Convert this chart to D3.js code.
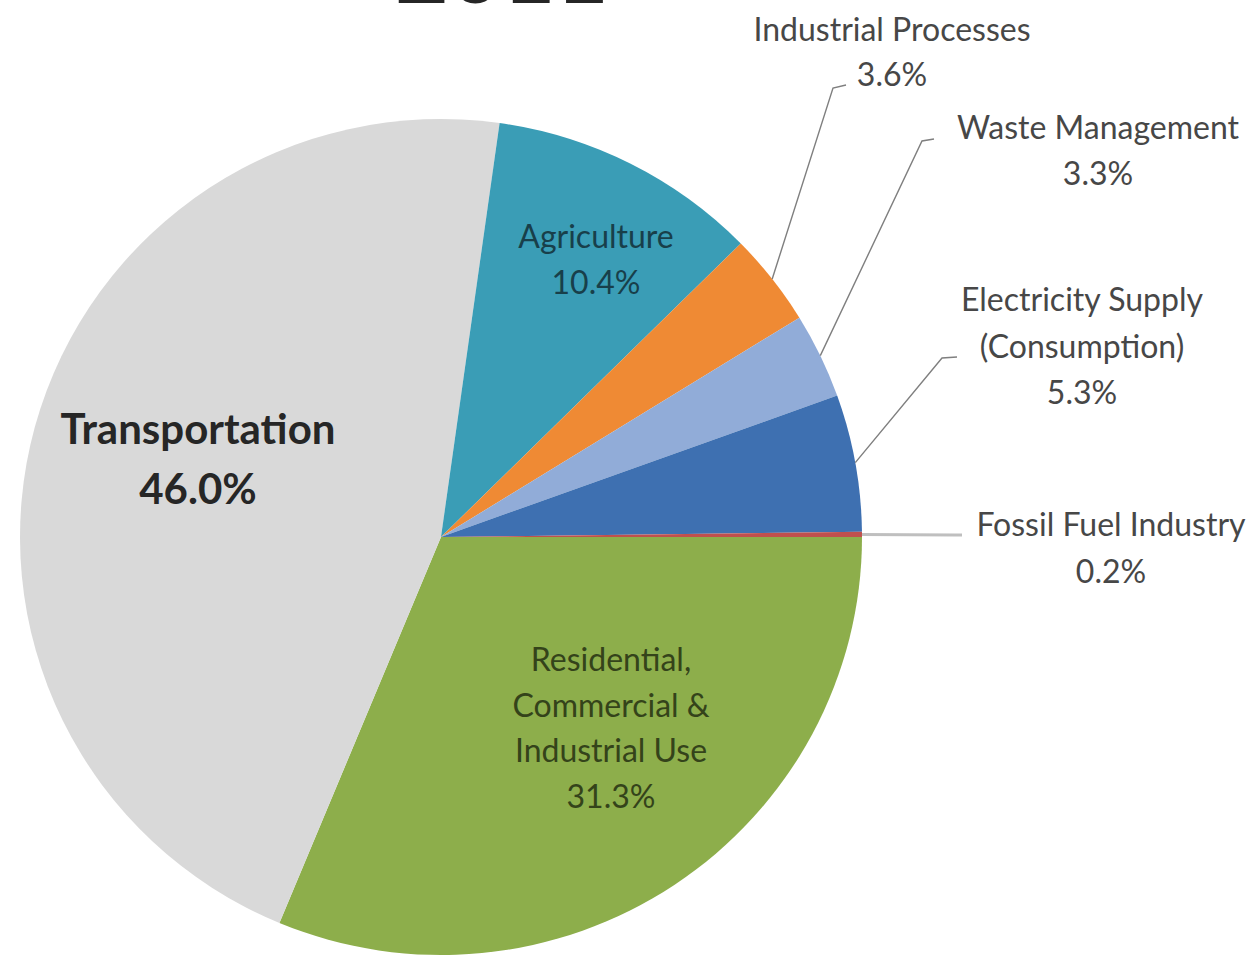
<!DOCTYPE html>
<html>
<head>
<meta charset="utf-8">
<script src="https://cdn.jsdelivr.net/npm/d3@7"></script>
<style>
  html, body { margin: 0; padding: 0; background: #fff; }
  svg { display: block; }
</style>
</head>
<body>
<svg id="chart" width="1259" height="962"></svg>
<script>
// ---- data ----
const categories = [
  "Residential, Commercial & Industrial Use",
  "Transportation",
  "Agriculture",
  "Industrial Processes",
  "Waste Management",
  "Electricity Supply (Consumption)",
  "Fossil Fuel Industry"
];
const values = [31.3, 46.0, 10.4, 3.6, 3.3, 5.3, 0.2];
const labelLines = [
  ["Residential,", "Commercial &", "Industrial Use"],
  ["Transportation"],
  ["Agriculture"],
  ["Industrial Processes"],
  ["Waste Management"],
  ["Electricity Supply", "(Consumption)"],
  ["Fossil Fuel Industry"]
];
const title = "2011";

// ---- styles / layout ----
const colors = ["#8DAE4B", "#D9D9D9", "#3A9DB6", "#EF8A34", "#91ACD8", "#3E70B1", "#C0504D"];
const cx = 441, cy = 537, rx = 421, ry = 418;
const layout = [
  {type: "in", x: 611, y: 671, lh: 45.5, size: 32, weight: 400, color: "#34431a"},
  {type: "in", x: 198, y: 444, lh: 60, size: 42, weight: 700, color: "#262626"},
  {type: "in", x: 596, y: 248, lh: 46, size: 32, weight: 400, color: "#183f4a"},
  {type: "out", x: 892, y: 41, lh: 45, size: 32, color: "#474747", elbow: [[833, 88], [846, 85]]},
  {type: "out", x: 1098, y: 139, lh: 46, size: 32, color: "#474747", elbow: [[922, 141], [934, 139]]},
  {type: "out", x: 1082, y: 311, lh: 46.5, size: 32, color: "#474747", elbow: [[942, 358], [957, 357]]},
  {type: "out", x: 1111, y: 536, lh: 47, size: 32, color: "#474747", elbow: [[955, 535], [962, 535]]}
];
const fontFamily = "Lato, 'Open Sans', sans-serif";

const svg = d3.select("#chart");

// title (cut off at top, as in the reference)
svg.append("text")
  .attr("x", 502).attr("y", 3)
  .attr("text-anchor", "middle")
  .attr("font-family", fontFamily)
  .attr("font-weight", 700)
  .attr("font-size", 92)
  .attr("fill", "#262626")
  .text(title);

const pie = d3.pie().sort(null).value(d => d)
  .startAngle(Math.PI / 2).endAngle(Math.PI / 2 + 2 * Math.PI);
const arcs = pie(values);
const arc = d3.arc().innerRadius(0).outerRadius(rx);

const g = svg.append("g")
  .attr("transform", `translate(${cx},${cy}) scale(1,${ry / rx})`);
g.selectAll("path").data(arcs).join("path")
  .attr("d", arc)
  .attr("fill", (d, i) => colors[i]);

const fmt = v => v.toFixed(1) + "%";

arcs.forEach((a, i) => {
  const L = layout[i];
  const lines = labelLines[i].concat([fmt(values[i])]);
  if (L.type === "out") {
    const mid = (a.startAngle + a.endAngle) / 2;
    const px = cx + rx * Math.sin(mid), py = cy - ry * Math.cos(mid);
    const pts = [[px, py]].concat(L.elbow);
    svg.append("path")
      .attr("d", d3.line()(pts))
      .attr("fill", "none")
      .attr("stroke", i === 6 ? "#bfbfbf" : "#7f7f7f")
      .attr("stroke-width", i === 6 ? 3 : 1.4);
  }
  const t = svg.append("text")
    .attr("text-anchor", "middle")
    .attr("font-family", fontFamily)
    .attr("font-size", L.size)
    .attr("font-weight", L.weight || 400)
    .attr("fill", L.color);
  lines.forEach((s, j) => {
    t.append("tspan").attr("x", L.x).attr("y", L.y + j * L.lh).text(s);
  });
});
</script>
</body>
</html>
